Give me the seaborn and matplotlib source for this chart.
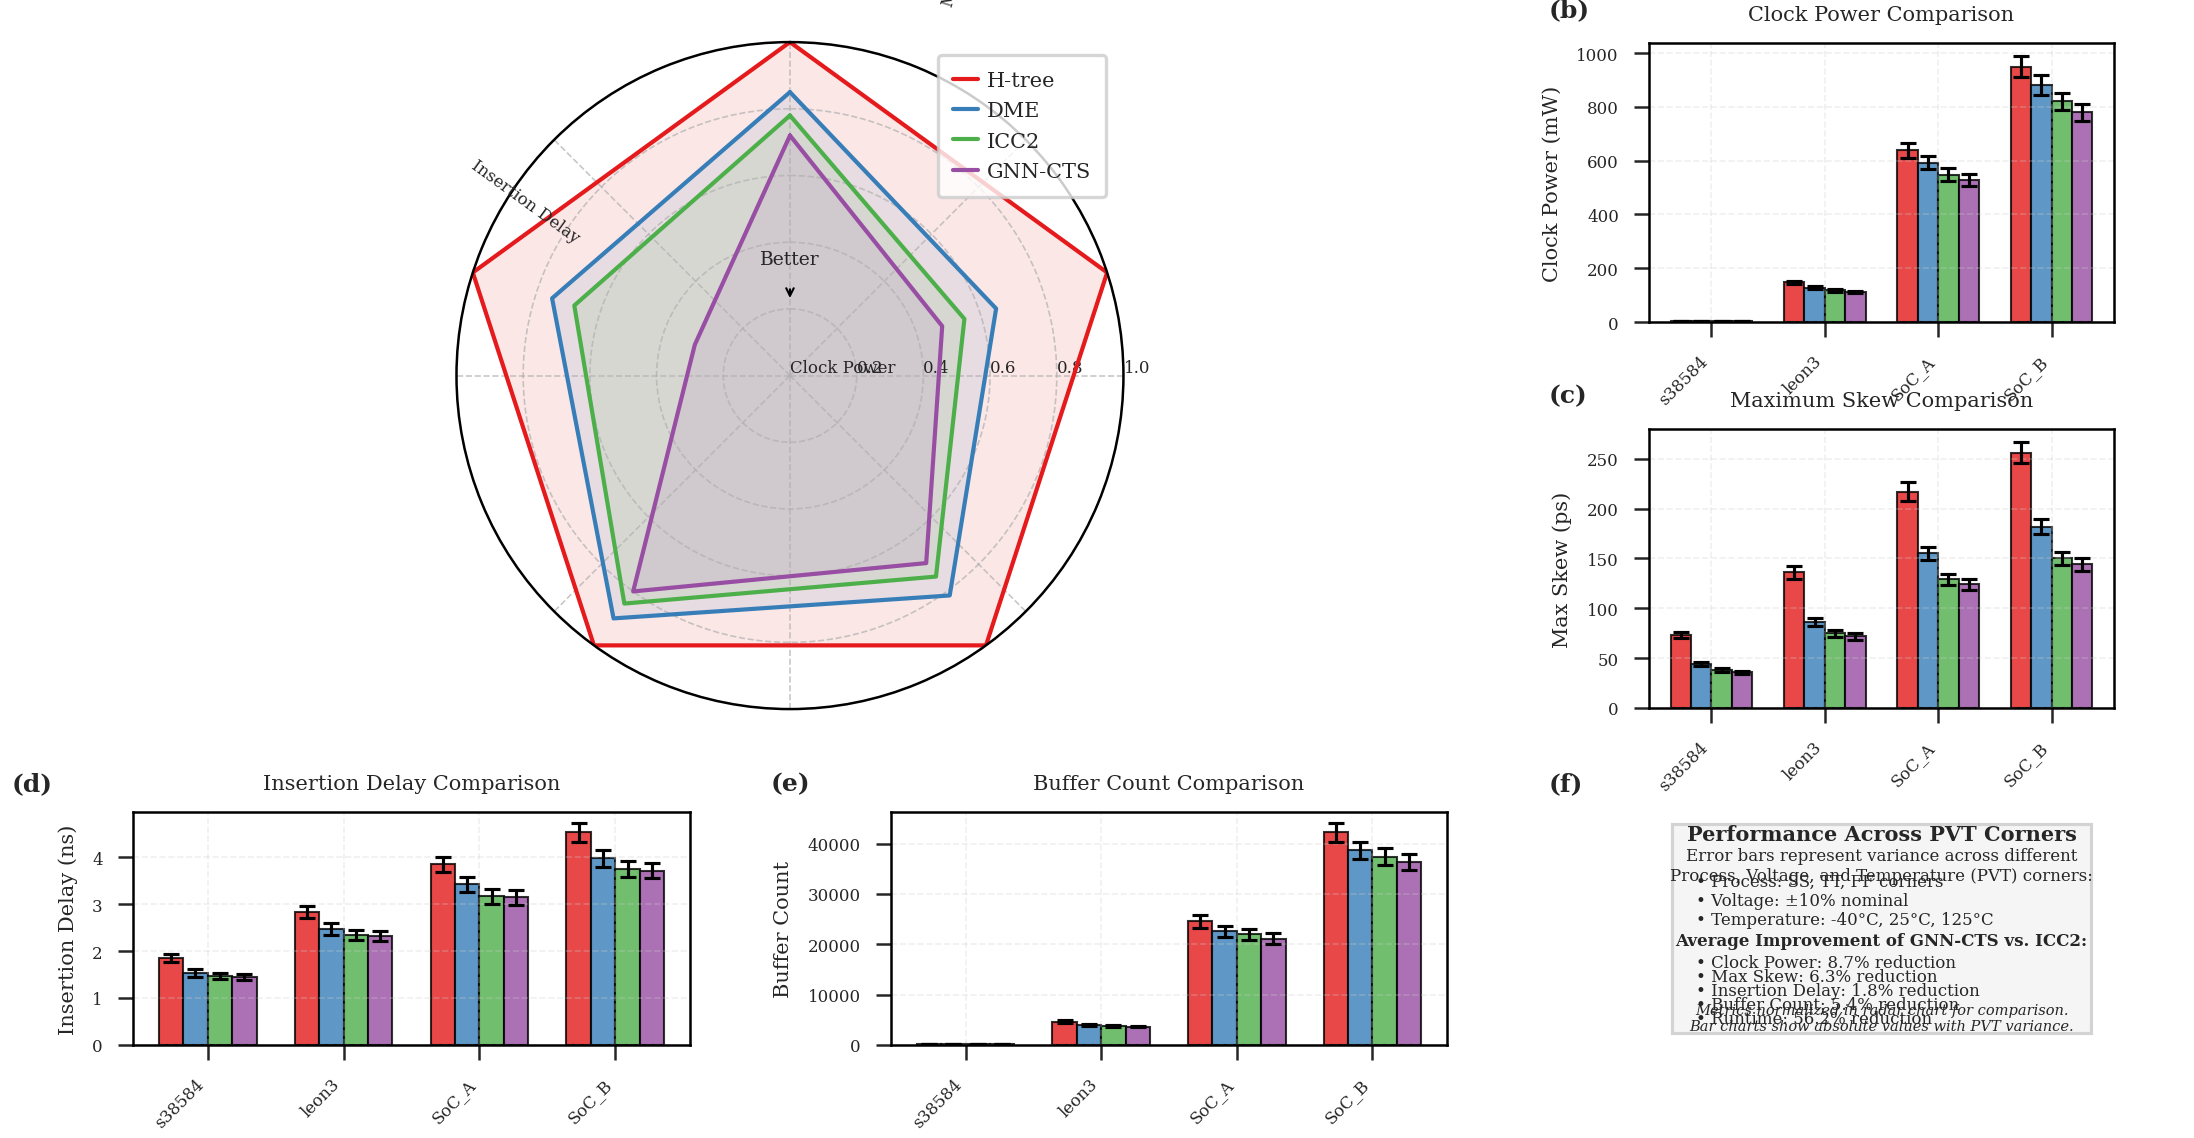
import numpy as np
import pandas as pd
import matplotlib
matplotlib.use("Agg")
import matplotlib.pyplot as plt
from matplotlib.patches import Rectangle
import seaborn as sns

# benchmarks and methods
benchmarks = ["s38584", "leon3", "SoC_A", "SoC_B"]
methods = ["H-tree", "DME", "ICC2", "GNN-CTS"]
colors = ["#e41a1c", "#377eb8", "#4daf4a", "#984ea3"]

# bar chart values, one row per method (benchmarks in order)
clock_power = [[5.2, 148, 638, 950], [4.8, 128, 592, 882], [4.5, 118, 548, 820], [4.2, 112, 527, 780]]
clock_power_err = [[0.2, 6, 28, 38], [0.2, 5, 24, 37], [0.2, 5, 24, 33], [0.2, 4, 23, 32]]
max_skew = [[73, 136, 217, 256], [44, 86, 155, 182], [38, 75, 129, 150], [36, 72, 124, 144]]
max_skew_err = [[3.2, 6.3, 9.2, 10.5], [2.0, 4.2, 6.7, 7.5], [1.8, 3.5, 5.7, 6.3], [1.5, 3.3, 5.8, 6.7]]
insertion_delay = [[1.85, 2.83, 3.85, 4.53], [1.53, 2.47, 3.42, 3.98], [1.47, 2.35, 3.17, 3.75], [1.45, 2.32, 3.15, 3.71]]
insertion_delay_err = [[0.09, 0.13, 0.16, 0.20], [0.08, 0.13, 0.15, 0.18], [0.07, 0.11, 0.16, 0.16], [0.07, 0.11, 0.16, 0.16]]
buffer_count = [[260, 4640, 24550, 42250], [240, 3980, 22550, 38650], [230, 3780, 22000, 37450], [220, 3650, 21150, 36300]]
buffer_count_err = [[12, 230, 1230, 1860], [11, 200, 1100, 1700], [10, 190, 1100, 1625], [10, 180, 1060, 1625]]

# normalized radar scores (lower is better)
radar_metrics = ["Clock Power", "Max Skew", "Insertion Delay", "Buffer Count", "Runtime"]
radar_scores = [
    [1.0, 1.0, 1.0, 1.0, 1.0],
    [0.85, 0.65, 0.815, 0.90, 0.75],
    [0.78, 0.55, 0.745, 0.845, 0.68],
    [0.72, 0.48, 0.695, 0.80, 0.30],
]

sns.set_style("ticks")
plt.rcParams["font.family"] = "serif"
plt.rcParams["font.serif"] = ["DejaVu Serif"]
plt.rcParams["axes.axisbelow"] = "line"
plt.rcParams["axes.linewidth"] = 1.2


def bar_panel(ax, values, errors, title, ylabel, letter):
    df = pd.DataFrame({
        "benchmark": np.tile(benchmarks, len(methods)),
        "method": np.repeat(methods, len(benchmarks)),
        "value": np.ravel(values),
    })
    sns.barplot(data=df, x="benchmark", y="value", hue="method", order=benchmarks,
                hue_order=methods, palette=colors, saturation=1, alpha=0.8,
                edgecolor="black", linewidth=1, width=0.72, errorbar=None,
                legend=False, ax=ax)
    # PVT variance error bars on top of each bar
    for bars, err in zip(ax.containers, errors):
        xs = [b.get_x() + b.get_width() / 2 for b in bars]
        ys = [b.get_height() for b in bars]
        ax.errorbar(xs, ys, yerr=err, fmt="none", ecolor="black",
                    elinewidth=1.5, capsize=4, capthick=1.5)
    ax.set_xlim(-0.55, 3.55)
    ax.set_xticks(range(len(benchmarks)))
    ax.set_xticklabels(benchmarks, rotation=45, ha="right")
    ax.set_xlabel("")
    ax.set_ylabel(ylabel, fontsize=10, labelpad=7)
    ax.set_title(title, fontsize=10, pad=11)
    ax.grid(True, linestyle="--", alpha=0.3)
    ax.tick_params(length=7, width=1.2, labelsize=8, pad=7.5)
    for s in ax.spines.values():
        s.set_visible(True)
        s.set_color("black")
    ax.text(-0.217, 1.122, letter, transform=ax.transAxes, fontsize=12,
            fontweight="bold", ha="left", va="center")


fig = plt.figure(figsize=(14.627, 7.593), dpi=150)

# (a) radar chart
rax = fig.add_axes([0.2078, 0.3766, 0.3045, 0.5856], polar=True)
rax.set_theta_offset(np.pi / 2)
rax.set_theta_direction(-1)
angles = np.linspace(0, 2 * np.pi, len(radar_metrics), endpoint=False)
closed = np.append(angles, angles[0])
for name, col, sc in zip(methods, colors, radar_scores):
    vals = np.append(sc, sc[0])
    rax.plot(closed, vals, color=col, lw=2, label=name)
    rax.fill(closed, vals, color=col, alpha=0.1)
rax.set_ylim(0, 1)
rax.set_rticks([0.2, 0.4, 0.6, 0.8, 1.0])
rax.set_rlabel_position(90)
rax.set_xticklabels([])
rax.tick_params(labelsize=8)
rax.grid(True, linestyle="--", color="#b0b0b0", alpha=0.7)
rax.spines["polar"].set_color("black")

# metric labels (only those landing at non-negative radius are drawn)
for a, name in zip(angles, radar_metrics):
    x, y = 1.25 * np.cos(a), 1.25 * np.sin(a)
    if y < 0:
        continue
    rot = np.degrees(a)
    if 90 < rot < 270:
        rot -= 180
    rax.text(x, y, name, ha="left" if x > 0 else "right", va="bottom",
             rotation=rot, fontsize=8)

rax.annotate("Better", xy=(0, 0.22), xytext=(0, 0.35), ha="center", va="center",
             fontsize=9, arrowprops=dict(arrowstyle="->", color="black", lw=1,
                                         shrinkA=8, shrinkB=2))
leg = rax.legend(loc="upper right", bbox_to_anchor=(0.99, 0.996), fontsize=10,
                 handlelength=1.2, handletextpad=0.4, labelspacing=0.55,
                 borderpad=0.75)
leg.get_frame().set_linewidth(1.6)

# (b)-(e) bar charts
ax_b = fig.add_axes([0.7516, 0.7164, 0.2119, 0.2450])
bar_panel(ax_b, clock_power, clock_power_err, "Clock Power Comparison", "Clock Power (mW)", "(b)")
ax_c = fig.add_axes([0.7516, 0.3775, 0.2119, 0.2450])
bar_panel(ax_c, max_skew, max_skew_err, "Maximum Skew Comparison", "Max Skew (ps)", "(c)")
ax_d = fig.add_axes([0.0606, 0.0817, 0.2539, 0.2046])
bar_panel(ax_d, insertion_delay, insertion_delay_err, "Insertion Delay Comparison", "Insertion Delay (ns)", "(d)")
ax_e = fig.add_axes([0.4061, 0.0817, 0.2534, 0.2046])
bar_panel(ax_e, buffer_count, buffer_count_err, "Buffer Count Comparison", "Buffer Count", "(e)")

# (f) text summary
fax = fig.add_axes([0.7516, 0.0817, 0.2119, 0.2046])
fax.axis("off")
fax.text(-0.217, 1.122, "(f)", transform=fax.transAxes, fontsize=12,
         fontweight="bold", ha="left", va="center")
fax.add_patch(Rectangle((0.05, 0.05), 0.9, 0.9, transform=fax.transAxes,
                        facecolor="#f5f5f5", edgecolor="#d3d3d3", lw=1.5))
fax.text(0.5, 0.95, "Performance Across PVT Corners", transform=fax.transAxes,
         ha="center", va="top", fontsize=10, fontweight="bold")
fax.text(0.5, 0.77, "Error bars represent variance across different\n"
         "Process, Voltage, and Temperature (PVT) corners:",
         transform=fax.transAxes, ha="center", va="center", fontsize=8)
pvt_lines = ["• Process: SS, TT, FF corners", "• Voltage: ±10% nominal",
             "• Temperature: -40°C, 25°C, 125°C"]
for i, line in enumerate(pvt_lines):
    fax.text(0.1, 0.70 - i * 0.08, line, transform=fax.transAxes,
             ha="left", va="center", fontsize=8)
fax.text(0.5, 0.447, "Average Improvement of GNN-CTS vs. ICC2:", transform=fax.transAxes,
         ha="center", va="center", fontsize=8, fontweight="bold")
gain_lines = ["• Clock Power: 8.7% reduction", "• Max Skew: 6.3% reduction",
              "• Insertion Delay: 1.8% reduction", "• Buffer Count: 5.4% reduction",
              "• Runtime: 56.2% reduction"]
for i, line in enumerate(gain_lines):
    fax.text(0.1, 0.352 - i * 0.06, line, transform=fax.transAxes,
             ha="left", va="center", fontsize=8)
fax.text(0.5, 0.114, "Metrics normalized in radar chart for comparison.\n"
         "Bar charts show absolute values with PVT variance.",
         transform=fax.transAxes, ha="center", va="center", fontsize=7, style="italic")

fig.savefig("out.png", dpi=150)
